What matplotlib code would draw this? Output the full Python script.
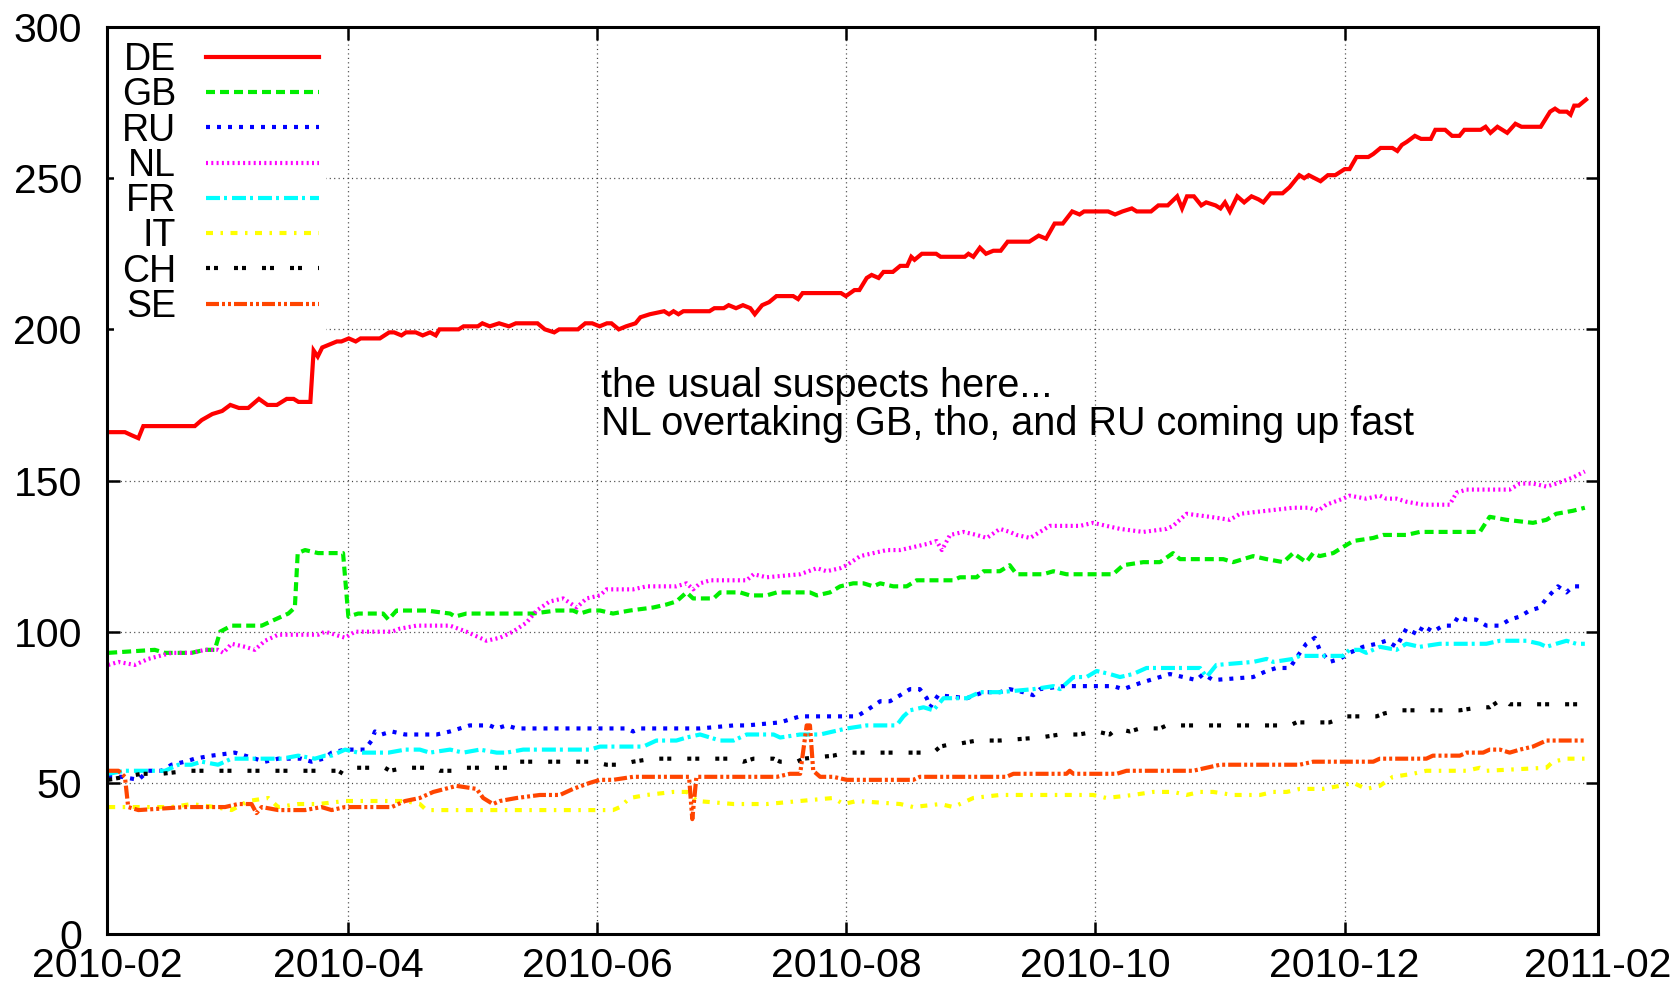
import numpy as np
import matplotlib
matplotlib.use("Agg")
import matplotlib.pyplot as plt
import matplotlib.dates as mdates

start = np.datetime64("2010-02-01T00:00:00")

# days since 2010-02-01, value
de_day = [0.3, 4.4, 6, 7.7, 8.9, 21.5, 23.2, 25.8, 28.2, 30.2, 32.3, 34.6, 37.2, 39.3, 41.6, 44, 45.7, 46.9,
          49.8, 50.6, 51.6, 52.7, 54.5, 56.3, 57.4, 59.2, 60.9, 62.1, 66.8, 69.1, 70.3, 72.1, 73.2, 75.6, 77.3,
          79.1, 80.5, 81.4, 86.1, 87.3, 90.8, 91.9, 93.7, 96, 98.4, 100.1, 105.4, 107.2, 109.5, 110.7, 115.3,
          117.1, 118.8, 120.6, 122.4, 123.5, 125.3, 127.1, 129.4, 130.6, 132.9, 136.4, 137.6, 138.7, 139.9,
          141.1, 147.5, 148.7, 151, 152.2, 154, 155.7, 157.5, 158.6, 160.4, 162.1, 163.9, 168, 169.2, 170.3,
          179.7, 180.9, 183, 184.2, 186, 187.2, 188.9, 190.1, 192.4, 194.2, 195.9, 196.9, 197.7, 199.5, 203,
          204.1, 210, 210.9, 212.1, 213.7, 215.2, 217, 218.8, 220.5, 225.8, 228.1, 229.9, 232, 234, 236.3,
          238.1, 239.2, 245.1, 246.8, 248.6, 250.9, 252.1, 255.6, 257.4, 259.7, 262, 263.2, 264.4, 266.1,
          267.9, 269.1, 271.4, 272.6, 273.7, 274.9, 276.7, 278.4, 280.2, 281.9, 283.1, 284.9, 287.8, 289.5,
          291.9, 293.1, 294.2, 297.1, 298.9, 300.7, 303, 304.2, 305.9, 308.8, 310, 311.8, 314.7, 315.9, 317,
          318.2, 320.2, 321.7, 324.1, 325.2, 327.6, 329.3, 331.1, 332.3, 336.3, 337.5, 338.7, 340.4, 341.6,
          342.8, 344.8, 346.3, 351, 353.3, 354.5, 355.6, 357.4, 358.3, 359.2, 360.3, 362.1]
de_val = [166, 166, 165, 164, 168, 168, 170, 172, 173, 175, 174, 174, 177, 175, 175, 177, 177, 176,
          176, 193, 191, 194, 195, 196, 196, 197, 196, 197, 197, 199, 199, 198, 199, 199, 198,
          199, 198, 200, 200, 201, 201, 202, 201, 202, 201, 202, 202, 200, 199, 200, 200,
          202, 202, 201, 202, 202, 200, 201, 202, 204, 205, 206, 205, 206, 205,
          206, 206, 207, 207, 208, 207, 208, 207, 205, 208, 209, 211, 211, 210, 212,
          212, 211, 213, 213, 217, 218, 217, 219, 219, 221, 221, 224, 223, 225, 225,
          224, 224, 225, 224, 227, 225, 226, 226, 229, 229, 231, 230, 235, 235, 239,
          238, 239, 239, 238, 239, 240, 239, 239, 241, 241, 244, 240, 244, 244,
          241, 242, 241, 240, 242, 239, 244, 242, 244, 243, 242, 245, 245, 247,
          251, 250, 251, 249, 251, 251, 253, 253, 257, 257, 258, 260, 260, 259, 261,
          262, 264, 263, 263, 266, 266, 264, 264, 266, 266, 267, 265, 267, 266,
          265, 268, 267, 267, 272, 273, 272, 272, 271, 274, 274, 276]

gb_day = [0.3, 11.7, 14.2, 20.7, 24, 26.4, 27.7, 30.5, 37.9, 39.5, 41.1, 44.4, 46, 46.7, 48.5, 51.7, 57.8,
          59.1, 61.5, 67.6, 68.9, 70.9, 78.2, 84, 85.2, 88, 104.3, 110, 114.1, 115.8, 118.2, 120.7, 123.9,
          128, 133.7, 137, 139.4, 141.9, 143.5, 148.5, 150.1, 155, 157.4, 161.5, 164, 172.1, 173.8, 177,
          179.5, 182.7, 185.2, 187.6, 189.3, 192.5, 195.8, 198.2, 207.2, 208.8, 212.9, 214.6, 218.6, 221,
          222.7, 229.2, 231.7, 234.9, 246.3, 248.8, 253.7, 257.8, 261, 262.7, 273.3, 275.7, 280.6, 283.9,
          288, 290.4, 293.6, 295.3, 296.9, 300.2, 302.6, 305.1, 310, 312.4, 318.1, 321.4, 336.1, 338.5,
          342.6, 349.1, 352.4, 354.8, 358.9, 361.8]
gb_val = [93, 94, 93, 93, 94, 94, 100, 102, 102, 103, 104, 106, 108, 126, 127, 126, 126,
          105, 106, 106, 104, 107, 107, 106, 105, 106, 106, 107, 107, 106, 107, 107, 106,
          107, 108, 109, 110, 113, 111, 111, 113, 113, 112, 112, 113, 113, 112, 113,
          115, 116, 116, 115, 116, 115, 115, 117, 117, 118, 118, 120, 120, 122,
          119, 119, 120, 119, 119, 122, 123, 123, 126, 124, 124, 123, 125, 124,
          123, 126, 123, 126, 125, 126, 128, 130, 131, 132, 132, 133, 133, 138,
          137, 136, 137, 139, 140, 141]

ru_day = [0.3, 3.6, 7.7, 10.1, 13.4, 15.8, 19.1, 21.5, 25.6, 31.3, 33.8, 38.7, 41.9, 47.6, 50.1, 53, 55,
          58.3, 63.1, 64.8, 65.6, 67.2, 69.7, 73, 80.7, 84, 88.8, 93.7, 95.4, 97.8, 100.3, 127.2, 128.8,
          130.5, 139.4, 145.2, 153.4, 156.6, 164.8, 167.2, 169.7, 183.6, 186, 189.3, 191.7, 194.2, 196.6,
          199, 200.7, 201.5, 203.5, 210.5, 214.6, 218.6, 221, 224.3, 226.8, 228.4, 234.1, 246.3, 248.8,
          252.9, 260.2, 263.5, 266.7, 268.4, 270.8, 280.6, 283.9, 286.3, 289.6, 291, 293.6, 295.7, 296.9,
          299.3, 301.8, 304.2, 307.5, 310.8, 313.2, 315.7, 318.1, 321, 322.2, 324.6, 327.1, 329.5, 330.8,
          332.8, 335.2, 337.7, 341, 343.4, 345.9, 348.3, 350.8, 352.4, 355.2, 357.3, 358.9, 361.8]
ru_val = [52, 52, 51, 54, 54, 56, 57, 58, 59, 60, 59, 57, 58, 58, 57, 58, 60,
          61, 61, 64, 67, 66, 67, 66, 66, 67, 69, 69, 68, 69, 68, 68, 67,
          68, 68, 68, 69, 69, 70, 71, 72, 72, 74, 77, 77, 79, 81,
          81, 78, 75, 79, 78, 80, 80, 81, 80, 79, 81, 82, 82, 81,
          83, 86, 85, 84, 86, 84, 85, 87, 88, 88, 91, 96, 98, 94,
          90, 91, 93, 95, 96, 97, 95, 101, 99, 102, 100, 102, 102, 105,
          104, 104, 102, 102, 104, 105, 107, 108, 111, 115, 113, 115, 115]

nl_day = [0.3, 2.8, 6.8, 10.1, 15.8, 20.7, 24, 27.2, 28.5, 30.5, 33.8, 36.2, 38.7, 41.9, 45.2, 51.7, 53.4,
          58.3, 60.7, 69.7, 71.7, 75.8, 84, 88, 92.9, 96.2, 99.4, 102.7, 105.2, 108.4, 111.7, 115, 117.4,
          120.7, 122.3, 128.8, 132.1, 139.4, 141.9, 143.5, 145.2, 147.7, 156.6, 158.3, 161.5, 169.7, 173.8,
          176.2, 179.5, 181.1, 184.4, 190.9, 194.2, 200.7, 203.1, 204.4, 206.4, 209.7, 212.9, 215.4, 218.6,
          221, 222.7, 226, 230.8, 238.2, 241.4, 244.7, 248, 253.7, 259.4, 261, 264.3, 270, 274.9, 277.4,
          290.4, 294.4, 296.5, 298.5, 302.6, 304.2, 308.3, 311.6, 313.2, 315.7, 318.1, 322.2, 328.7, 330.4,
          332.8, 343.4, 345.9, 349.1, 352.4, 354.8, 358.9, 361.8]
nl_val = [89, 90, 89, 91, 93, 93, 94, 94, 93, 96, 95, 94, 97, 99, 99, 99, 100,
          98, 100, 100, 101, 102, 102, 100, 97, 98, 100, 103, 107, 110, 111, 108, 111,
          112, 114, 114, 115, 115, 116, 114, 116, 117, 117, 119, 118, 119, 121,
          120, 121, 122, 125, 127, 127, 129, 130, 127, 132, 133, 132, 131, 134,
          133, 132, 131, 135, 135, 136, 135, 134, 133, 134, 135, 139, 138, 137, 139,
          141, 141, 140, 142, 144, 145, 144, 145, 144, 144, 143, 142, 142, 146,
          147, 147, 149, 149, 148, 149, 151, 153]

fr_day = [0.3, 4.4, 9.3, 14.2, 17.5, 20.7, 23.2, 27.2, 30.5, 33.8, 37.9, 42.8, 46.8, 50.9, 53.4, 55, 58.3,
          61.5, 68.9, 73, 76.6, 79, 84, 87.2, 91.3, 95.4, 97.8, 101.9, 118.2, 120.7, 131.3, 134.5, 139.4,
          141.9, 145.2, 150.1, 153.4, 156.6, 163.2, 164.8, 169.7, 174.6, 177.8, 181.1, 186, 193.3, 195,
          196.6, 199.9, 202.3, 204.8, 210.5, 213.7, 218.6, 226.8, 231.7, 233.3, 236.6, 239.8, 242.3, 245.5,
          248, 251.2, 254.5, 259.4, 267.6, 269.2, 271.6, 280.6, 283.9, 285.5, 290.4, 292, 302.6, 304.2,
          306.7, 308.3, 311.6, 315.7, 318.1, 321.4, 326.3, 337.7, 341, 347.5, 350.8, 352.4, 354.8, 357.3,
          359.7, 361.8]
fr_val = [53, 54, 54, 54, 56, 56, 57, 56, 58, 58, 58, 58, 59, 58, 59, 59, 61,
          60, 60, 61, 61, 60, 61, 60, 61, 60, 60, 61, 61, 62, 62, 64, 64,
          65, 66, 64, 64, 66, 66, 65, 66, 66, 67, 68, 69, 69, 72,
          74, 75, 74, 78, 78, 80, 80, 81, 82, 81, 85, 85, 87, 86,
          85, 86, 88, 88, 88, 85, 89, 90, 91, 90, 91, 92, 92, 94,
          94, 93, 95, 94, 96, 95, 96, 96, 97, 97, 96, 95, 96, 97,
          96, 96]

it_day = [0.3, 7.7, 15.8, 20.7, 26.4, 30.5, 34.6, 39.5, 41.9, 46.8, 51.7, 58.3, 61.5, 73, 76.6, 78.2, 88,
          96.2, 106, 123.9, 125.6, 128, 132.1, 138.6, 142, 144.5, 153.4, 161.5, 177.8, 180.3, 183.6, 194.2,
          197.4, 204, 207.2, 212.1, 218.6, 241.4, 244.7, 251.2, 256.1, 261, 264.3, 267.6, 270.8, 275.7,
          282.3, 285.5, 288.8, 292, 297.7, 301.8, 305.1, 308.3, 311.6, 314.8, 319.7, 323, 325.5, 332.8,
          336.1, 337.7, 352.4, 354, 357.3, 359.7, 361.8]
it_val = [42, 42, 42, 43, 42, 41, 44, 45, 42, 43, 43, 44, 44, 44, 43, 41, 41,
          41, 41, 41, 42, 45, 46, 47, 47, 44, 43, 43, 45, 43, 44, 43,
          42, 43, 42, 45, 46, 46, 45, 46, 47, 47, 46, 47, 47, 46,
          46, 47, 47, 48, 48, 49, 50, 48, 49, 52, 53, 54, 54, 54,
          55, 54, 55, 57, 58, 58, 58]

ch_day = [0.3, 4.4, 8.5, 13.4, 19.9, 56.6, 57.8, 60.7, 64, 68, 69.3, 73, 79.9, 81.5, 85.6, 88, 95.4, 99.4,
          100.7, 119, 122.3, 125.6, 128.8, 133.7, 145.2, 153.4, 155.8, 158.3, 163.2, 164.8, 168.9, 170.5,
          177.8, 181.1, 202.3, 204, 207.2, 208.8, 212.9, 218.6, 228.4, 233.3, 235.7, 237.9, 242.3, 245.5,
          247.2, 250.4, 252.9, 257.8, 259.4, 289.6, 291.2, 299.3, 303.4, 310.8, 312.8, 316.5, 323, 331.2,
          336.1, 338.5, 341.8, 343.4, 348.3, 354, 361.8]
ch_val = [51, 52, 53, 53, 54, 54, 53, 55, 55, 55, 54, 55, 55, 54, 54, 55, 55, 55,
          57, 57, 56, 56, 57, 58, 58, 58, 57, 58, 58, 57, 57, 58,
          59, 60, 60, 62, 63, 63, 64, 64, 65, 66, 66, 66, 67, 66,
          68, 67, 68, 68, 69, 69, 70, 70, 72, 72, 73, 74, 74, 74,
          75, 75, 78, 76, 76, 76, 76]

se_day = [0.3, 2.8, 4.4, 5.2, 7.7, 19.1, 24, 28.9, 32.1, 35.4, 36.6, 37.9, 41.9, 48.5, 52.5, 55, 58.3,
          69.7, 73, 76.6, 79.9, 85.6, 90.5, 92.1, 94.5, 96.2, 100.3, 106, 110.9, 114.1, 118.2, 120.7,
          123.9, 128.8, 142.5, 143.3, 144.3, 164, 167.2, 169.7, 171.3, 172.1, 172.9, 174.6, 177.8, 181.1,
          197.4, 199, 220.2, 221.9, 234.9, 235.7, 236.6, 247.2, 249.6, 265.9, 269.2, 272.5, 292, 295.3,
          310, 311.6, 323, 324.6, 331.2, 332.8, 336.9, 338.5, 341, 343.4, 345.9, 349.1, 352.4, 361.8]
se_val = [54, 54, 52, 42, 41, 42, 42, 42, 43, 43, 40, 42, 41, 41, 42, 41, 42,
          42, 44, 45, 47, 49, 48, 45, 43, 44, 45, 46, 46, 48, 50, 51,
          51, 52, 52, 38, 52, 52, 53, 53, 69, 69, 54, 52, 52, 51,
          51, 52, 52, 53, 53, 54, 53, 53, 54, 54, 55, 56, 56, 57,
          57, 58, 58, 59, 59, 60, 60, 61, 61, 60, 61, 62, 64, 64]


def px(*seq):
    # dash pattern given in pixels (dpi 100) -> points
    return (0, [s * 0.72 for s in seq])


series = [
    ("DE", de_day, de_val, "#ff0000", "-"),
    ("GB", gb_day, gb_val, "#00ee00", px(9, 5)),
    ("RU", ru_day, ru_val, "#0000ff", px(4, 7)),
    ("NL", nl_day, nl_val, "#ff00ff", px(2, 3.3)),
    ("FR", fr_day, fr_val, "#00ffff", px(14, 4, 3, 5)),
    ("IT", it_day, it_val, "#ffff00", px(7, 7.5, 2.5, 7.5)),
    ("CH", ch_day, ch_val, "#000000", px(4, 4, 4, 16)),
    ("SE", se_day, se_val, "#ff4500", px(13, 3, 3, 3, 3, 3)),
]

plt.rcParams["font.family"] = ["Liberation Sans", "DejaVu Sans"]
plt.rcParams["lines.scale_dashes"] = False

fig = plt.figure(figsize=(16.79, 9.86), dpi=100)
ax = fig.add_axes([0.0637, 0.0527, 0.888, 0.9199])

for name, days, vals, color, ls in series:
    t = start + np.round(np.array(days) * 86400).astype("timedelta64[s]")
    ax.plot(t, vals, color=color, linestyle=ls, lw=3.0, label=name,
            solid_joinstyle="miter", dash_capstyle="butt")

ax.set_xlim(np.datetime64("2010-02-01"), np.datetime64("2011-02-01"))
ax.set_ylim(0, 300)
ax.set_yticks(np.arange(0, 301, 50))
ax.xaxis.set_major_locator(mdates.MonthLocator(bymonth=[2, 4, 6, 8, 10, 12]))
ax.xaxis.set_major_formatter(mdates.DateFormatter("%Y-%m"))

ax.grid(True, color="#444444", linestyle=(0, (0.8, 2.4)), lw=0.9)
ax.set_axisbelow(True)
for sp in ax.spines.values():
    sp.set_linewidth(2.2)
ax.tick_params(direction="in", length=9, width=1.8, top=True, right=True,
               labelsize=29.5)
ax.tick_params(axis="x", pad=9)
ax.tick_params(axis="y", pad=18)

ax.text(np.datetime64("2010-06-02"), 177.5, "the usual suspects here...", fontsize=28.5)
ax.text(np.datetime64("2010-06-02"), 165, "NL overtaking GB, tho, and RU coming up fast", fontsize=28.5)

leg = ax.legend(loc="upper left", bbox_to_anchor=(0.0, 1.0), markerfirst=False,
                fontsize=27, handlelength=3.0, handletextpad=0.8, labelspacing=-0.02,
                borderpad=0.2, borderaxespad=0.2, fancybox=False, framealpha=1)
leg.get_frame().set_edgecolor("none")

fig.savefig("out.png", dpi=100)
